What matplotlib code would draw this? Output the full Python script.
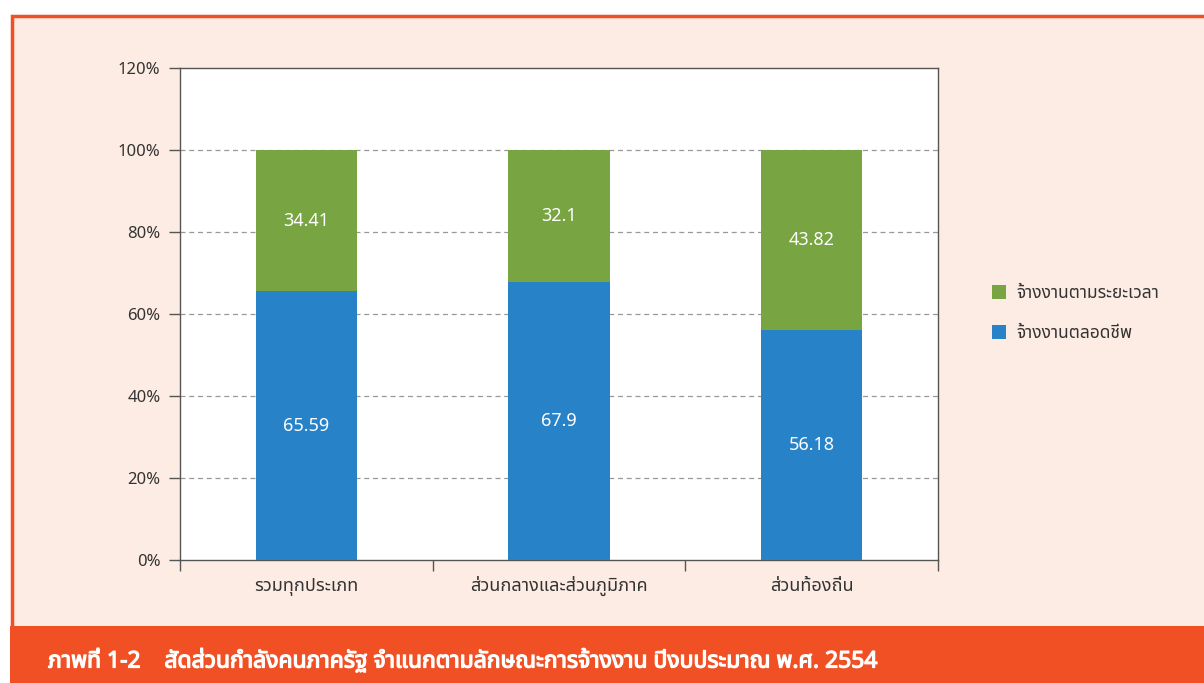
import matplotlib
matplotlib.use("Agg")
import matplotlib.pyplot as plt
from matplotlib import font_manager
from matplotlib.ft2font import FT2Font
from matplotlib.patches import Rectangle
from matplotlib import patheffects as pe
from matplotlib.transforms import blended_transform_factory, offset_copy

# ---------------- data ----------------
categories = ["รวมทุกประเภท", "ส่วนกลางและส่วนภูมิภาค", "ส่วนท้องถิ่น"]
permanent = [65.59, 67.9, 56.18]      # จ้างงานตลอดชีพ
fixed_term = [34.41, 32.1, 43.82]     # จ้างงานตามระยะเวลา
series_names = ["จ้างงานตามระยะเวลา", "จ้างงานตลอดชีพ"]
y_ticks = [0, 20, 40, 60, 80, 100, 120]
title = "ภาพที่ 1-2    สัดส่วนกำลังคนภาครัฐ จำแนกตามลักษณะการจ้างงาน ปีงบประมาณ พ.ศ. 2554"

# ---------------- font with Thai glyphs ----------------
def find_thai_font():
    preferred = ["Noto Sans Thai", "Noto Sans Thai Looped", "Sarabun", "Kanit",
                 "Prompt", "Loma", "Garuda", "Waree", "Tlwg Typo", "Norasi"]
    found = {}
    for f in font_manager.fontManager.ttflist:
        try:
            cm = FT2Font(f.fname).get_charmap()
        except Exception:
            continue
        if ord("ก") in cm and ord("ำ") in cm:
            found.setdefault(f.name, f.fname)
    for p in preferred:
        if p in found:
            return p
    if found:
        return sorted(found)[0]
    return None

thai = find_thai_font()
fam = ([thai] if thai else []) + ["DejaVu Sans"]
plt.rcParams["font.family"] = fam

GREEN = "#79A442"
BLUE = "#2882C8"
ORANGE = "#F15024"
PEACH = "#FDECE3"
TXT = "#333333"

W, H = 1204, 683
fig = plt.figure(figsize=(W / 100, H / 100), dpi=100)
fig.patch.set_facecolor("white")

# peach panel with orange border
fig.patches.append(Rectangle((11.5 / W, 0), 1.2, (H - 15.5) / H, transform=fig.transFigure,
                             facecolor=PEACH, edgecolor=ORANGE, linewidth=2.5, zorder=-2))
# bottom banner
fig.patches.append(Rectangle((10 / W, 0), 1.0, 57 / H, transform=fig.transFigure,
                             facecolor=ORANGE, edgecolor="none", zorder=-1))
fig.text(48 / W, 22 / H, title, color="white", fontsize=16.5, fontweight="bold",
         va="center", ha="left", zorder=2,
         path_effects=[pe.withStroke(linewidth=0.9, foreground="white")])

ax = fig.add_axes([180 / W, 1 - 560 / H, (938 - 180) / W, (560 - 68) / H])
ax.set_zorder(5)
ax.set_facecolor("white")
x = list(range(len(categories)))
ax.bar(x, permanent, width=0.4, color=BLUE, zorder=3, label=series_names[1])
ax.bar(x, fixed_term, width=0.4, bottom=permanent, color=GREEN, zorder=3, label=series_names[0])

for i in x:
    ax.text(i, permanent[i] / 2, f"{permanent[i]:g}", color="white", ha="center",
            va="center", fontsize=13, zorder=4)
    ax.text(i, permanent[i] + fixed_term[i] / 2, f"{fixed_term[i]:g}", color="white",
            ha="center", va="center", fontsize=13, zorder=4)

ax.set_xlim(-0.5, len(categories) - 0.5)
ax.set_ylim(0, 120)
ax.set_yticks(y_ticks)
ax.set_yticklabels([f"{v}%" for v in y_ticks], fontsize=12, color=TXT)
ax.set_xticks([i - 0.5 for i in range(len(categories) + 1)])
ax.set_xticklabels([])
ax.tick_params(axis="x", which="major", length=8, color="#555555", width=1)
ax.tick_params(axis="y", length=8, color="#555555", width=1, pad=6)

# category labels on a common baseline below the axis
trans = offset_copy(blended_transform_factory(ax.transData, ax.transAxes),
                    fig=fig, x=0, y=-22.5, units="points")
for i, c in zip(x, categories):
    ax.text(i, 0, c, transform=trans, ha="center", va="baseline", fontsize=13,
            color=TXT, clip_on=False)

for v in y_ticks[1:-1]:
    ax.axhline(v, color="#999999", linestyle=(0, (4, 3)), linewidth=0.9, zorder=1)
for s in ax.spines.values():
    s.set_color("#555555")
    s.set_linewidth(1)

handles, labels = ax.get_legend_handles_labels()
leg = fig.legend(handles[::-1], labels[::-1], loc="center left",
                 bbox_to_anchor=(976 / W, 1 - 313 / H), frameon=False, fontsize=12.5,
                 handlelength=0.85, handleheight=0.85, labelspacing=1.3, handletextpad=0.6)
leg.set_zorder(6)
for t in leg.get_texts():
    t.set_color(TXT)

fig.savefig("out.png", dpi=100, facecolor=fig.get_facecolor())
